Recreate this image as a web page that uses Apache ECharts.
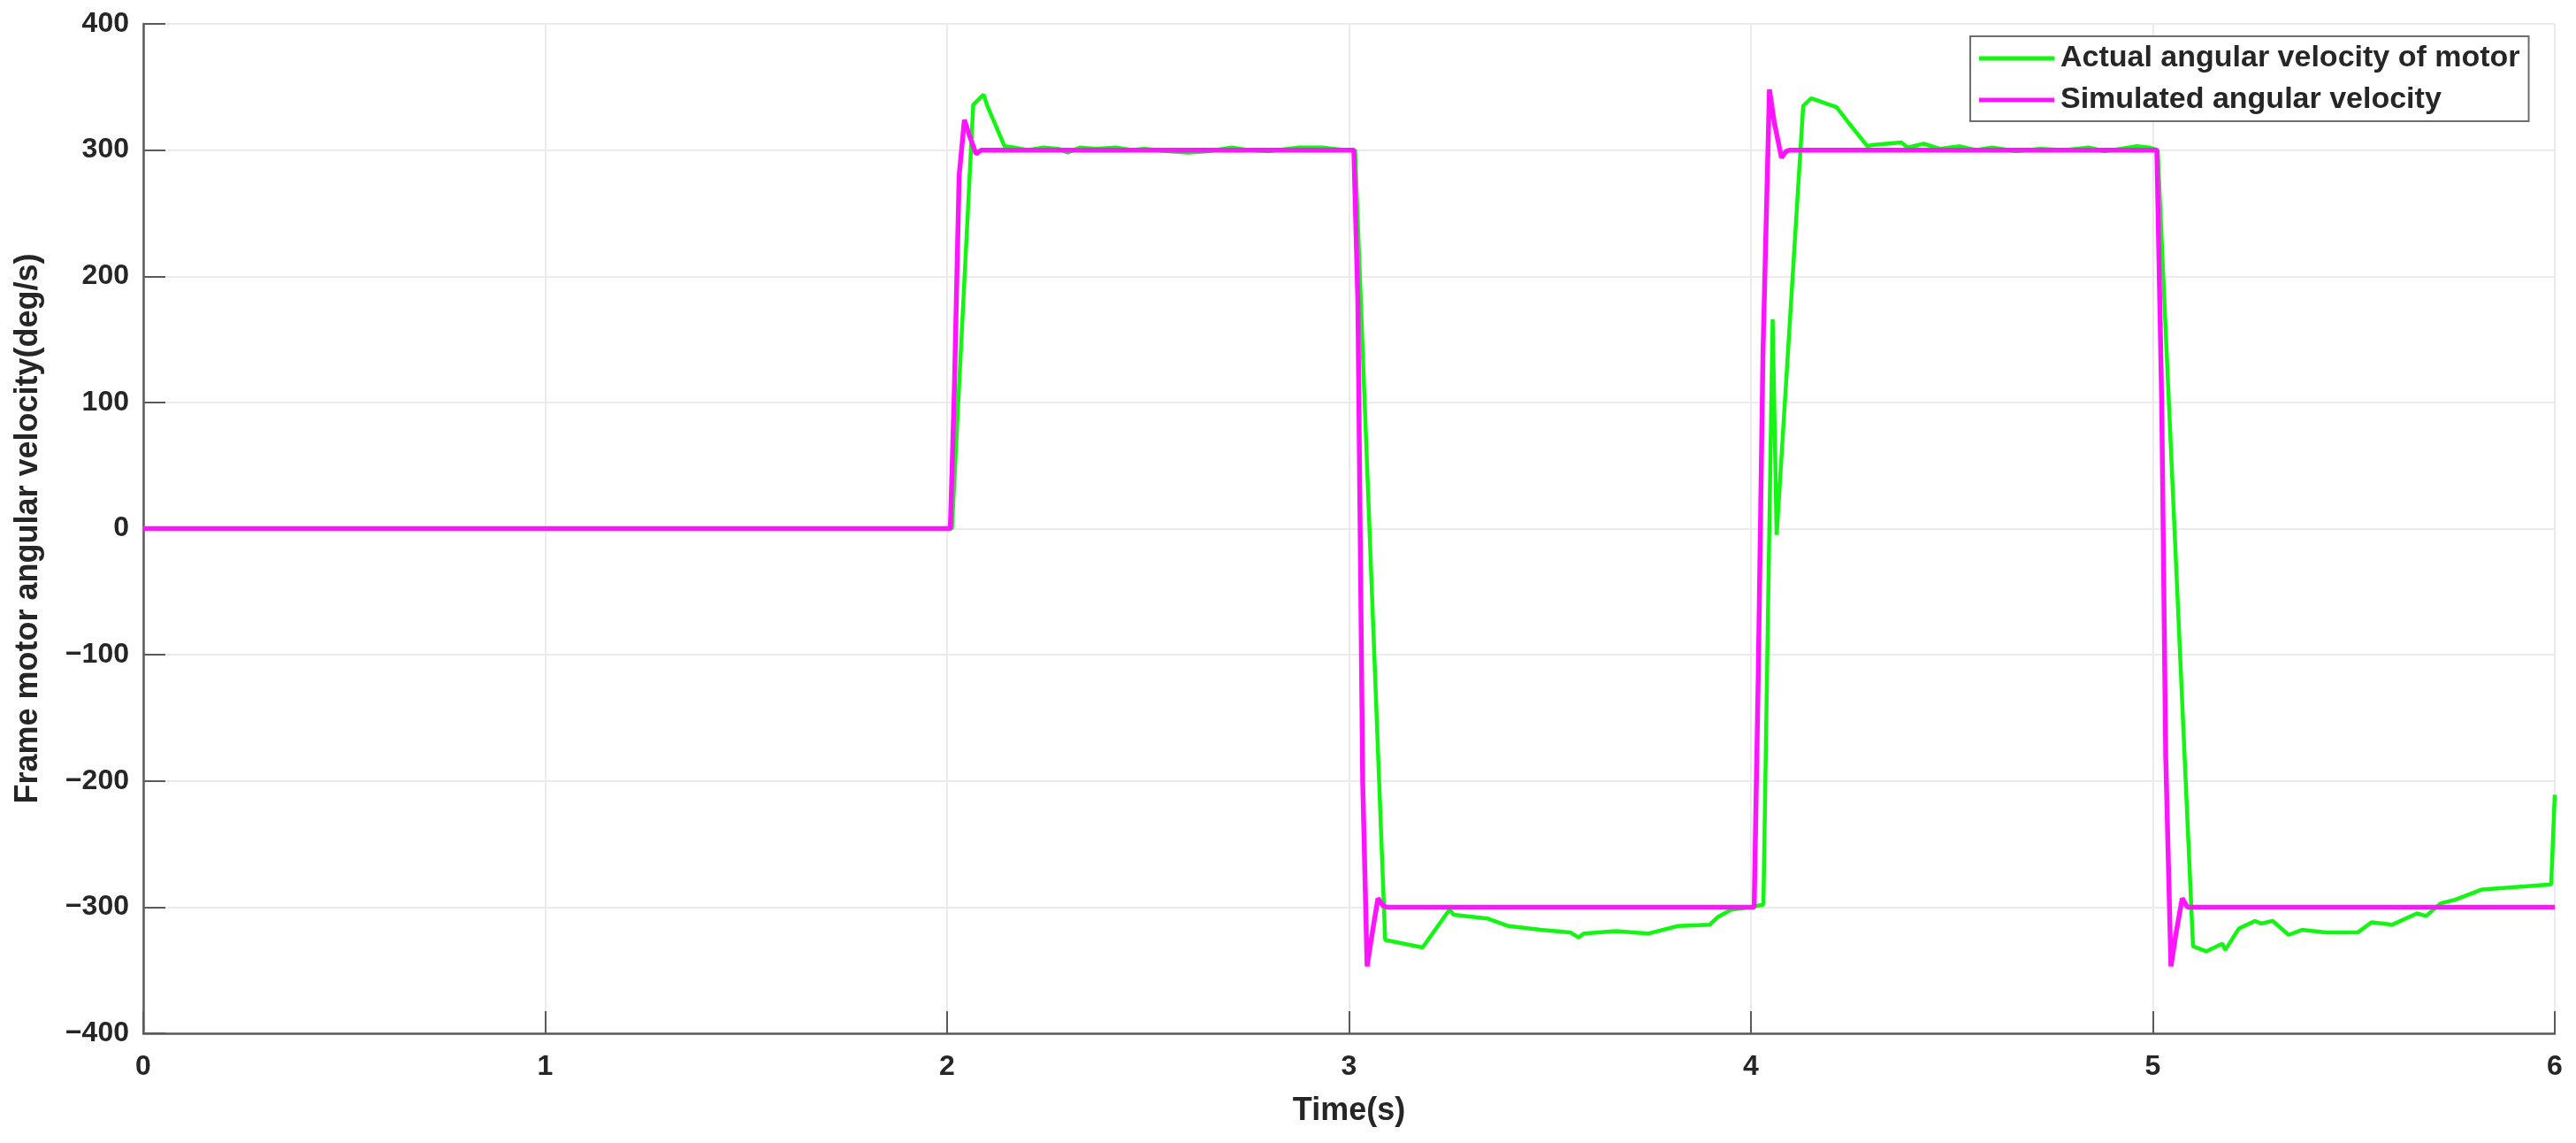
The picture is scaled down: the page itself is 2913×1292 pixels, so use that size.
<!DOCTYPE html>
<html>
<head>
<meta charset="utf-8">
<title>Frame motor angular velocity</title>
<script src="https://cdn.jsdelivr.net/npm/echarts@6/dist/echarts.min.js"></script>
<style>
  html, body { margin: 0; padding: 0; background: #fff; }
  #main { width: 2913px; height: 1292px; }
</style>
</head>
<body>
<div id="main"></div>
<script>
// 图例名称
var seriesNames = ['Actual angular velocity of motor', 'Simulated angular velocity'];

// 仿真角速度 (时间 s, 角速度 deg/s)
var simTime = [0, 2.008, 2.018, 2.03, 2.043, 2.055, 2.072, 2.085, 2.095,
  3.012, 3.022, 3.034, 3.045, 3.057, 3.072, 3.085, 3.095,
  4.008, 4.018, 4.03, 4.046, 4.058, 4.076, 4.087, 4.097,
  5.01, 5.022, 5.032, 5.045, 5.057, 5.073, 5.086, 5.098, 6.0];
var simValue = [0, 0, 110, 280, 324, 312, 297, 300, 300,
  300, 180, -200, -347, -322, -293, -299, -300,
  -300, -120, 140, 348, 322, 294, 299, 300,
  300, 100, -180, -347, -322, -293, -300, -300, -300];

// 电机实际角速度
var actTime = [0, 2.012, 2.065, 2.072, 2.091, 2.1, 2.143, 2.167, 2.2, 2.24, 2.275, 2.3, 2.33, 2.37, 2.42, 2.46,
  2.49, 2.55, 2.6, 2.65, 2.708, 2.75, 2.8, 2.875, 2.934, 2.99, 3.015,
  3.09, 3.183, 3.25, 3.26, 3.344, 3.397, 3.477, 3.55, 3.571, 3.584, 3.664, 3.744, 3.818, 3.897, 3.917, 3.951, 4.0, 4.031,
  4.054, 4.064, 4.13, 4.15, 4.213, 4.242, 4.29, 4.3, 4.374, 4.39, 4.43, 4.47, 4.52, 4.56, 4.6, 4.66, 4.72, 4.78, 4.84,
  4.88, 4.92, 4.96, 4.99, 5.012,
  5.1, 5.133, 5.173, 5.18, 5.214, 5.254, 5.27, 5.298, 5.338, 5.371, 5.43, 5.51, 5.544, 5.595, 5.657, 5.68, 5.716,
  5.753, 5.819, 5.991, 6.0];
var actValue = [0, 0, 336, 338, 344, 335, 303, 302, 300, 302, 301, 298, 302, 301, 302, 300,
  301, 299, 298, 299, 302, 300, 299, 302, 302, 300, 300,
  -326, -332, -302, -306, -309, -315, -318, -320, -324, -321, -319, -321, -315, -314, -308, -302, -300, -298,
  166, -5, 335, 341, 334, 322, 303, 304, 306, 302, 305, 301, 303, 300, 302, 299, 301, 300, 302,
  299, 301, 303, 302, 300,
  -331, -335, -329, -334, -317, -311, -313, -311, -322, -318, -320, -320, -312, -314, -305, -307, -297,
  -294, -286, -282, -211];

function toPairs(ts, vs) {
  var arr = [];
  for (var i = 0; i < ts.length; i++) {
    arr.push([ts[i], vs[i]]);
  }
  return arr;
}

var axisColor = '#5a5a5a';
var textColor = '#262626';
var gridColor = '#ebebeb';

var myChart = echarts.init(document.getElementById('main'));
var options = {
  animation: false,
  backgroundColor: '#fff',
  grid: { left: 162, right: 24, top: 27, bottom: 124, outerBoundsMode: 'none' },
  legend: {
    data: seriesNames,
    orient: 'vertical',
    left: 2228,
    top: 41,
    padding: [8, 10, 7, 10],
    itemGap: 13,
    itemWidth: 85,
    itemHeight: 5,
    icon: 'rect',
    backgroundColor: '#fff',
    borderColor: '#6e6e6e',
    borderWidth: 2,
    borderRadius: 0,
    textStyle: { fontFamily: 'Liberation Sans', fontWeight: 'bold', fontSize: 34, lineHeight: 34, color: textColor, padding: [0, 0, 0, 2] }
  },
  xAxis: {
    type: 'value',
    min: 0, max: 6, interval: 1,
    name: 'Time(s)',
    nameLocation: 'middle',
    nameGap: 70,
    nameTextStyle: { fontFamily: 'Liberation Sans', fontWeight: 'bold', fontSize: 36, color: textColor },
    axisLine: { show: true, onZero: false, lineStyle: { color: axisColor, width: 2.5 } },
    axisTick: { show: true, inside: true, length: 25, lineStyle: { color: axisColor, width: 2 } },
    axisLabel: { fontFamily: 'Liberation Sans', fontWeight: 'bold', fontSize: 32, color: textColor, margin: 22 },
    splitLine: { show: true, lineStyle: { color: gridColor, width: 2 } }
  },
  yAxis: {
    type: 'value',
    min: -400, max: 400, interval: 100,
    name: 'Frame motor angular velocity(deg/s)',
    nameLocation: 'middle',
    nameRotate: 90,
    nameGap: 112,
    nameTextStyle: { fontFamily: 'Liberation Sans', fontWeight: 'bold', fontSize: 36, color: textColor },
    axisLine: { show: true, onZero: false, lineStyle: { color: axisColor, width: 2.5 } },
    axisTick: { show: true, inside: true, length: 25, lineStyle: { color: axisColor, width: 2 } },
    axisLabel: {
      fontFamily: 'Liberation Sans', fontWeight: 'bold', fontSize: 32, color: textColor, margin: 16,
      formatter: function (v) { return v < 0 ? '\u2212' + Math.abs(v) : String(v); }
    },
    splitLine: { show: true, lineStyle: { color: gridColor, width: 2 } }
  },
  series: [
    {
      name: seriesNames[0],
      type: 'line',
      symbol: 'none',
      data: toPairs(actTime, actValue),
      color: '#14f514',
      lineStyle: { color: '#14f514', width: 4.5 }
    },
    {
      name: seriesNames[1],
      type: 'line',
      symbol: 'none',
      data: toPairs(simTime, simValue),
      color: '#ff14ff',
      lineStyle: { color: '#ff14ff', width: 5.5 }
    }
  ]
};
myChart.setOption(options);
</script>
</body>
</html>
